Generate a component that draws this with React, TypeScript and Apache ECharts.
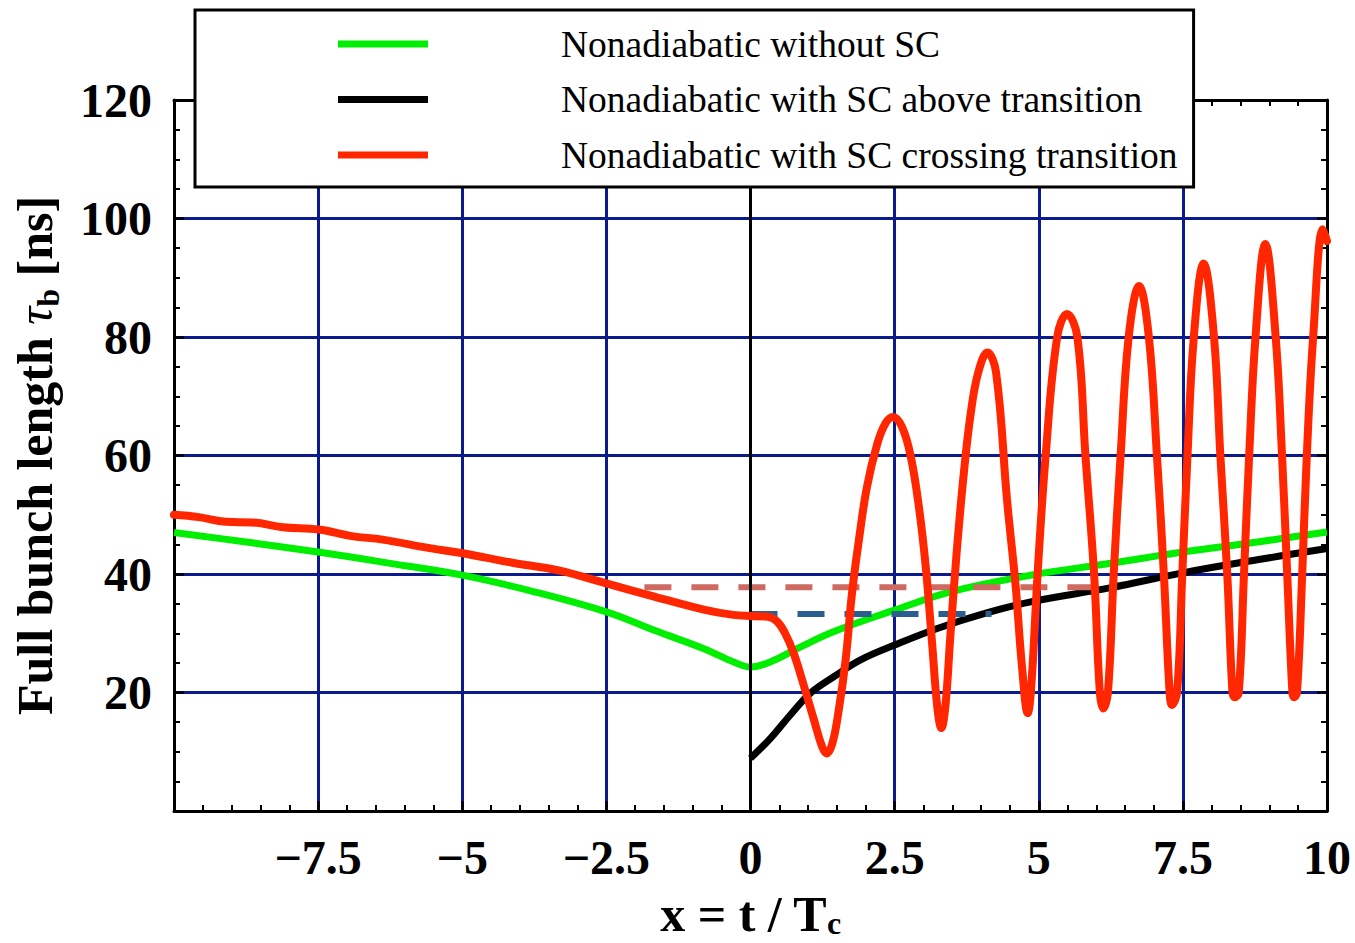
import { useEffect, useRef } from 'react';
import * as echarts from 'echarts';

// Full bunch length (ns) versus normalised time x = t / Tc
const withoutSC: [number, number][] = [
  [-10, 47.0], [-8.75, 45.4], [-7.5, 43.7], [-6.25, 41.8], [-5, 39.8], [-3.75, 37.0],
  [-2.5, 33.6], [-1.67, 30.5], [-0.81, 27.4], [-0.28, 25.1], [0, 24.3], [0.35, 25.2],
  [0.87, 27.7], [1.45, 30.3], [2.5, 33.9], [3.47, 37.0], [4.86, 39.8], [6.25, 41.8],
  [7.5, 43.7], [8.79, 45.4], [10, 47.1],
];

const withSCAbove: [number, number][] = [
  [0, 8.9], [0.35, 12.3], [0.69, 16.2], [1.04, 19.9], [1.45, 22.7], [1.91, 25.5],
  [2.5, 28.0], [3.24, 30.8], [4.05, 33.3], [4.86, 35.3], [6.25, 37.7], [7.5, 40.2],
  [8.79, 42.4], [10, 44.3],
];

const withSCCrossing: [number, number][] = [
  [-10, 50.0], [-9.57, 49.6], [-9.1, 48.8], [-8.64, 48.7], [-8.11, 47.9], [-7.49, 47.5],
  [-6.92, 46.4], [-6.38, 45.8], [-5.59, 44.4], [-4.99, 43.5], [-4.13, 41.9], [-3.33, 40.6],
  [-2.5, 38.4], [-1.67, 36.2], [-0.81, 34.0], [-0.3, 33.1], [0, 32.9],
  [0.3, 32.8], [0.46, 32.0], [0.6, 30.0], [0.75, 26.6], [0.93, 21.0], [1.1, 15.4], [1.24, 10.9],
  [1.32, 9.7], [1.42, 11.4], [1.53, 17.0], [1.65, 25.5], [1.76, 36.7], [1.88, 45.7],
  [2.02, 54.7], [2.2, 62.0], [2.34, 65.4], [2.47, 66.5], [2.63, 64.8], [2.78, 59.8],
  [2.92, 51.4], [3.04, 41.2], [3.15, 28.3], [3.24, 17.6], [3.31, 14.0], [3.38, 17.6],
  [3.47, 30.0], [3.58, 44.1], [3.7, 57.0], [3.82, 67.1], [3.95, 74.0], [4.11, 77.4],
  [4.26, 74.0], [4.45, 52.5], [4.6, 37.9], [4.71, 24.3], [4.81, 16.5], [4.87, 21.0],
  [4.98, 40], [5.12, 60], [5.32, 80], [5.49, 83.9], [5.67, 80], [5.81, 60], [5.96, 40],
  [6.06, 20], [6.12, 17.3], [6.2, 20], [6.3, 40], [6.42, 60], [6.56, 80], [6.74, 88.6],
  [6.91, 80], [7.05, 60], [7.17, 40], [7.27, 20], [7.31, 17.9], [7.4, 20], [7.49, 40],
  [7.58, 60], [7.69, 80], [7.86, 92.4], [8.04, 80], [8.15, 60], [8.27, 40], [8.36, 20],
  [8.4, 19.2], [8.47, 20], [8.56, 40], [8.65, 60], [8.76, 80], [8.93, 95.7], [9.11, 80],
  [9.22, 60], [9.31, 40], [9.4, 20], [9.43, 19.2], [9.48, 20], [9.57, 40], [9.65, 60],
  [9.76, 80], [9.93, 98.2], [10, 96.2],
];

// Horizontal reference levels (dashed)
const crossingLevel: [number, number][] = [[-1.84, 37.75], [5.96, 37.75]];
const aboveLevel: [number, number][] = [[0, 33.25], [4.18, 33.25]];

const seriesNames = [
  'Nonadiabatic without SC',
  'Nonadiabatic with SC above transition',
  'Nonadiabatic with SC crossing transition',
];

const X_MIN = -10;
const X_MAX = 10;
const X_STEP = 2.5;
const Y_MIN = 0;
const Y_MAX = 120;
const Y_STEP = 20;

const SERIF = "'Liberation Serif', 'Times New Roman', serif";
const GRID_BLUE = '#0b1b8e';

const fmtX = (v: number) => {
  if (v === X_MIN) return '';
  return v < 0 ? '\u2212' + String(Math.abs(v)) : String(v);
};
const fmtY = (v: number) => (v === Y_MIN ? '' : String(v));

export default function App() {
  const ref = useRef<HTMLDivElement>(null);

  useEffect(() => {
    document.body.style.margin = '0';
    if (!ref.current) return;
    const chart = echarts.init(ref.current, undefined, { renderer: 'svg' });

    const tickCommon = {
      axisLine: { show: true, onZero: false, lineStyle: { color: '#000', width: 3 } },
      axisTick: { show: true, inside: true, length: 10, lineStyle: { color: '#000', width: 2.5 } },
      minorTick: { show: true, length: 6, lineStyle: { color: '#000', width: 2 } },
    };

    chart.setOption({
      animation: false,
      backgroundColor: '#fff',
      grid: { left: 174, right: 28, top: 100, bottom: 132, containLabel: false, outerBoundsMode: 'none' },
      legend: {
        orient: 'vertical',
        left: 195,
        top: 10,
        data: seriesNames,
        icon: 'rect',
        itemWidth: 90,
        itemHeight: 7,
        itemGap: 5.5,
        padding: [9, 16, 7, 143],
        backgroundColor: '#fff',
        borderColor: '#000',
        borderWidth: 3,
        borderRadius: 0,
        selectedMode: false,
        z: 10,
        textStyle: {
          fontFamily: SERIF,
          fontSize: 37.5,
          lineHeight: 40,
          color: '#000',
          padding: [10, 0, 0, 128],
        },
      },
      xAxis: [
        {
          type: 'value',
          position: 'bottom',
          min: X_MIN,
          max: X_MAX,
          interval: X_STEP,
          z: 1,
          ...tickCommon,
          minorTick: { ...tickCommon.minorTick, splitNumber: 5 },
          splitLine: { show: false },
          axisLabel: {
            formatter: fmtX,
            fontFamily: SERIF,
            fontWeight: 'bold',
            fontSize: 48,
            lineHeight: 48,
            color: '#000',
            margin: 22,
          },
          name: 'x = t / T{sub|c}',
          nameLocation: 'middle',
          nameGap: 73,
          nameTextStyle: {
            fontFamily: SERIF,
            fontWeight: 'bold',
            fontSize: 50,
            lineHeight: 56,
            color: '#000',
            rich: {
              sub: { fontFamily: SERIF, fontWeight: 'bold', fontSize: 32, lineHeight: 32, padding: [18, 0, 0, 0] },
            },
          },
        },
        {
          type: 'value',
          position: 'top',
          min: X_MIN,
          max: X_MAX,
          interval: X_STEP,
          z: 0,
          ...tickCommon,
          minorTick: { ...tickCommon.minorTick, splitNumber: 5 },
          axisLabel: { show: false },
          splitLine: { show: true, lineStyle: { color: GRID_BLUE, width: 3 } },
        },
      ],
      yAxis: [
        {
          type: 'value',
          position: 'left',
          min: Y_MIN,
          max: Y_MAX,
          interval: Y_STEP,
          z: 1,
          ...tickCommon,
          minorTick: { ...tickCommon.minorTick, splitNumber: 4 },
          splitLine: { show: false },
          axisLabel: {
            formatter: fmtY,
            fontFamily: SERIF,
            fontWeight: 'bold',
            fontSize: 48,
            lineHeight: 48,
            color: '#000',
            margin: 22,
          },
          name: 'Full bunch length {tau|\u03c4}{sub|b} [ns]',
          nameLocation: 'middle',
          nameGap: 109,
          nameTextStyle: {
            fontFamily: SERIF,
            fontWeight: 'bold',
            fontSize: 50,
            lineHeight: 60,
            color: '#000',
            rich: {
              tau: { fontFamily: SERIF, fontStyle: 'italic', fontWeight: 'normal', fontSize: 50, lineHeight: 60 },
              sub: { fontFamily: SERIF, fontWeight: 'bold', fontSize: 32, lineHeight: 32, padding: [26, 0, 0, 0] },
            },
          },
        },
        {
          type: 'value',
          position: 'right',
          min: Y_MIN,
          max: Y_MAX,
          interval: Y_STEP,
          z: 0,
          ...tickCommon,
          minorTick: { ...tickCommon.minorTick, splitNumber: 4 },
          axisLabel: { show: false },
          splitLine: { show: true, lineStyle: { color: GRID_BLUE, width: 3 } },
        },
      ],
      series: [
        {
          name: seriesNames[0],
          type: 'line',
          data: withoutSC,
          color: '#00ee00',
          smooth: 0.4,
          showSymbol: false,
          symbol: 'none',
          lineStyle: { color: '#00ee00', width: 7 },
          z: 2,
          markLine: {
            silent: true,
            symbol: ['none', 'none'],
            label: { show: false },
            lineStyle: { color: '#000', width: 3, type: 'solid' },
            data: [{ xAxis: 0 }],
          },
        },
        {
          name: seriesNames[1],
          type: 'line',
          data: withSCAbove,
          color: '#000',
          smooth: 0.4,
          showSymbol: false,
          symbol: 'none',
          lineStyle: { color: '#000', width: 7 },
          z: 3,
        },
        {
          name: 'crossing level',
          type: 'line',
          data: crossingLevel,
          showSymbol: false,
          symbol: 'none',
          lineStyle: { color: '#cd6a62', width: 6, type: [27, 20], cap: 'butt' },
          z: 4,
        },
        {
          name: 'above level',
          type: 'line',
          data: aboveLevel,
          showSymbol: false,
          symbol: 'none',
          lineStyle: { color: '#2b5f90', width: 6, type: [27, 20], cap: 'butt' },
          z: 4,
        },
        {
          name: seriesNames[2],
          type: 'line',
          data: withSCCrossing,
          color: '#ff2600',
          smooth: 0.4,
          showSymbol: false,
          symbol: 'none',
          lineStyle: { color: '#ff2600', width: 8, join: 'round', cap: 'round' },
          z: 5,
        },
      ],
    });

    return () => chart.dispose();
  }, []);

  return <div ref={ref} style={{ width: 1355, height: 943 }} />;
}
